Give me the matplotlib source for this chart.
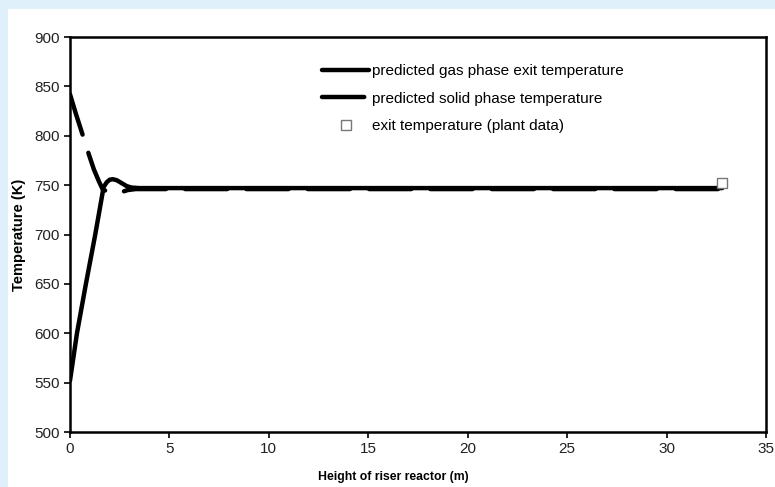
import matplotlib.pyplot as plt
from matplotlib.patches import Rectangle

plt.rcParams['font.family'] = ['Liberation Sans', 'DejaVu Sans']

# riser profiles read from the simulation output
height_gas = [0, 0.35, 0.8, 1.27, 1.69, 1.85, 2.0, 2.15, 2.35, 2.6, 2.85, 3.1, 3.5, 5, 10, 15, 20, 25, 30, 32.8]
temp_gas = [552, 600, 650, 700, 748, 753, 755.5, 756, 755, 752, 749, 747.5, 747, 747, 747, 747, 747, 747, 747, 747]

height_solid = [0, 0.3, 0.65, 0.95, 1.2, 1.45, 1.66, 1.9, 2.2, 2.6, 2.9, 3.3, 5, 10, 15, 20, 25, 30, 32.8]
temp_solid = [842, 822, 800, 781, 766, 754, 745, 744, 743.5, 743, 745, 746, 746, 746, 746, 746, 746, 746, 746]

plant_height = [32.8]
plant_temp = [752]

x_ticks = [0, 5, 10, 15, 20, 25, 30, 35]
y_ticks = [500, 550, 600, 650, 700, 750, 800, 850, 900]

fig = plt.figure(figsize=(7.75, 4.87), dpi=100)
fig.patch.set_facecolor('#dff0fb')
fig.patches.append(Rectangle((8 / 775, 0), 1, 1 - 9 / 487, transform=fig.transFigure,
                             facecolor='white', edgecolor='none', zorder=-1))

ax = fig.add_axes([70 / 775, (487 - 432) / 487, 696 / 775, 395 / 487])
ax.set_zorder(1)
ax.set_facecolor('white')

ax.plot(height_gas, temp_gas, color='black', lw=3.2, solid_capstyle='round',
        solid_joinstyle='round', label='predicted gas phase exit temperature', zorder=3)
ax.plot(height_solid, temp_solid, color='black', lw=3.2, linestyle=(0, (9.5, 4.3)),
        dash_capstyle='round', label='predicted solid phase temperature', zorder=2)
ax.plot(plant_height, plant_temp, linestyle='none', marker='s', markersize=7,
        markerfacecolor='white', markeredgecolor='#777777', markeredgewidth=1,
        label='exit temperature (plant data)', zorder=4)

ax.set_xlim(0, 35)
ax.set_ylim(500, 900)
ax.set_xticks(x_ticks)
ax.set_yticks(y_ticks)
ax.tick_params(direction='out', length=4, width=1.2, labelsize=11, colors='black',
               labelcolor='#222222')

for s in ax.spines.values():
    s.set_linewidth(1.8)

ax.set_xlabel('Height of riser reactor (m)', fontsize=8.8, fontweight='bold')
ax.xaxis.set_label_coords(0.464, -0.098)
ax.set_ylabel('Temperature (K)', fontsize=10.5, fontweight='bold')
ax.yaxis.set_label_coords(-0.063, 0.5)

leg = ax.legend(loc='upper left', bbox_to_anchor=(0.351, 0.95), frameon=False, borderpad=0,
                fontsize=11, handlelength=3.1, handletextpad=0.2, labelspacing=0.88)

fig.savefig('out.png', dpi=100)
